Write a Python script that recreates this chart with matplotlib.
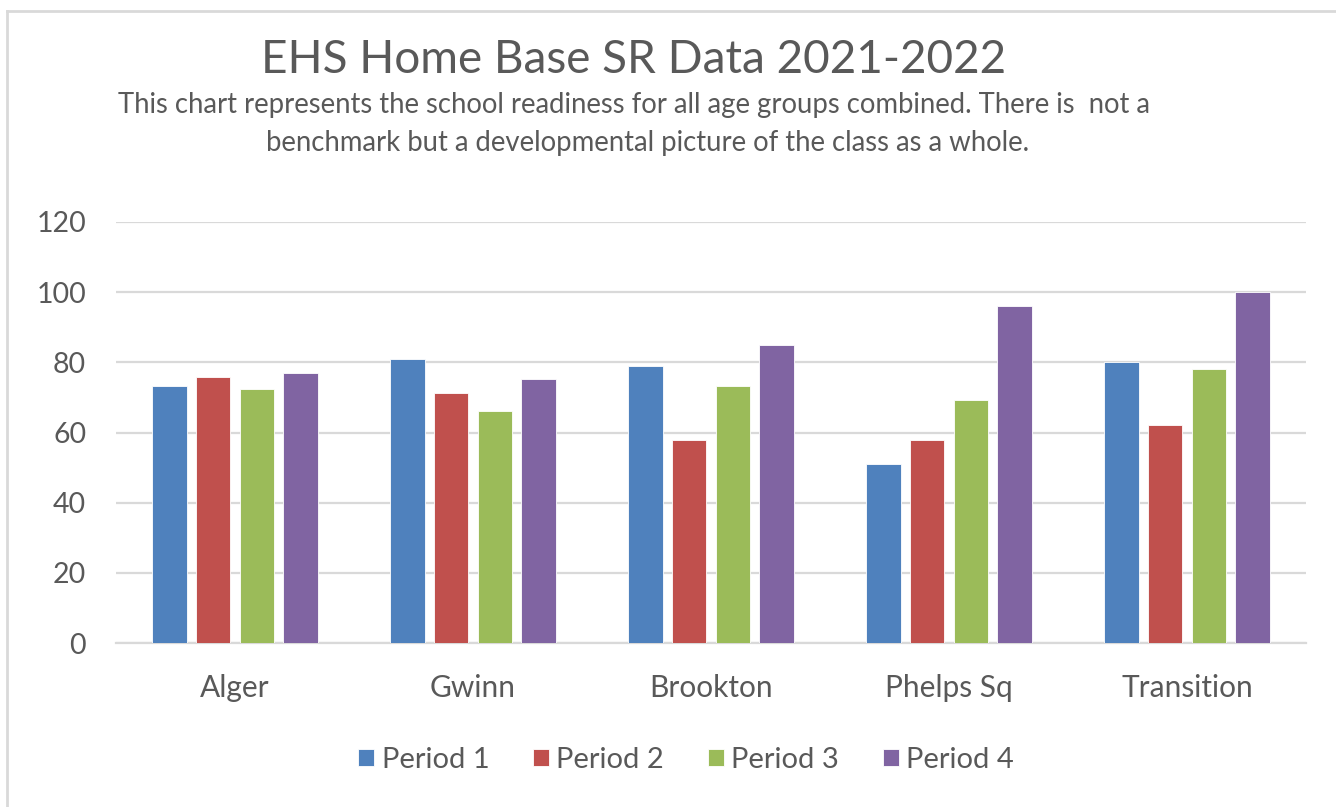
import matplotlib
matplotlib.use("Agg")
import matplotlib.pyplot as plt
import numpy as np

categories = ["Alger", "Gwinn", "Brookton", "Phelps Sq", "Transition"]
period1 = [73.3, 81.0, 79.0, 51.0, 80.0]
period2 = [75.8, 71.3, 58.0, 58.0, 62.0]
period3 = [72.4, 66.1, 73.3, 69.2, 78.0]
period4 = [76.9, 75.3, 85.0, 96.0, 100.0]
series_names = ["Period 1", "Period 2", "Period 3", "Period 4"]
colors = ["#4F81BD", "#C0504D", "#9BBB59", "#8064A2"]
yticks = [0, 20, 40, 60, 80, 100, 120]

plt.rcParams['font.family'] = ['Lato', 'DejaVu Sans']
txt = "#595959"

fig = plt.figure(figsize=(13.36, 8.07), dpi=100)
ax = fig.add_axes([116/1336, 1-643/807, (1306-116)/1336, (643-222)/807])

x = np.arange(len(categories))
width = 0.145
pitch = 0.183
for i, (vals, name, c) in enumerate(zip([period1, period2, period3, period4], series_names, colors)):
    ax.bar(x + (i - 1.5) * pitch, vals, width, color=c, label=name,
           edgecolor="white", linewidth=0.6, zorder=3)

ax.set_xlim(-0.5, len(categories) - 0.5)
ax.set_ylim(0, 120)
ax.set_yticks(yticks)
ax.set_yticklabels([str(t) for t in yticks], fontsize=20.5, color=txt)
ax.set_xticks(x)
ax.set_xticklabels(categories, fontsize=21.5, color=txt)
ax.tick_params(axis='both', length=0)
ax.tick_params(axis='y', pad=21.5)
ax.tick_params(axis='x', pad=22)
ax.grid(axis='y', color="#D9D9D9", linewidth=1.6, zorder=0)
for s in ["top", "right", "left"]:
    ax.spines[s].set_visible(False)
ax.spines["bottom"].set_color("#D9D9D9")
ax.spines["bottom"].set_linewidth(1.6)

fig.text(0.4742, 1-60/807, "EHS Home Base SR Data 2021-2022", ha="center", va="center",
         fontsize=33, color=txt)
fig.text(0.4746, 1-105/807, "This chart represents the school readiness for all age groups combined. There is  not a",
         ha="center", va="center", fontsize=19.8, color=txt)
fig.text(0.485, 1-143/807, "benchmark but a developmental picture of the class as a whole.",
         ha="center", va="center", fontsize=19.8, color=txt)

leg = fig.legend(loc="center", bbox_to_anchor=(686/1336, 1-760/807), ncol=4, frameon=False,
                 fontsize=21, handlelength=0.55, handleheight=0.55, handletextpad=0.25,
                 columnspacing=1.5)
for t in leg.get_texts():
    t.set_color(txt)

# chart border (top and left)
fig.add_artist(plt.Line2D([7/1336, 1], [1-11/807, 1-11/807], color="#D9D9D9", linewidth=2))
fig.add_artist(plt.Line2D([7/1336, 7/1336], [0, 1-11/807], color="#D9D9D9", linewidth=2))

fig.savefig("out.png", dpi=100, facecolor="white")
